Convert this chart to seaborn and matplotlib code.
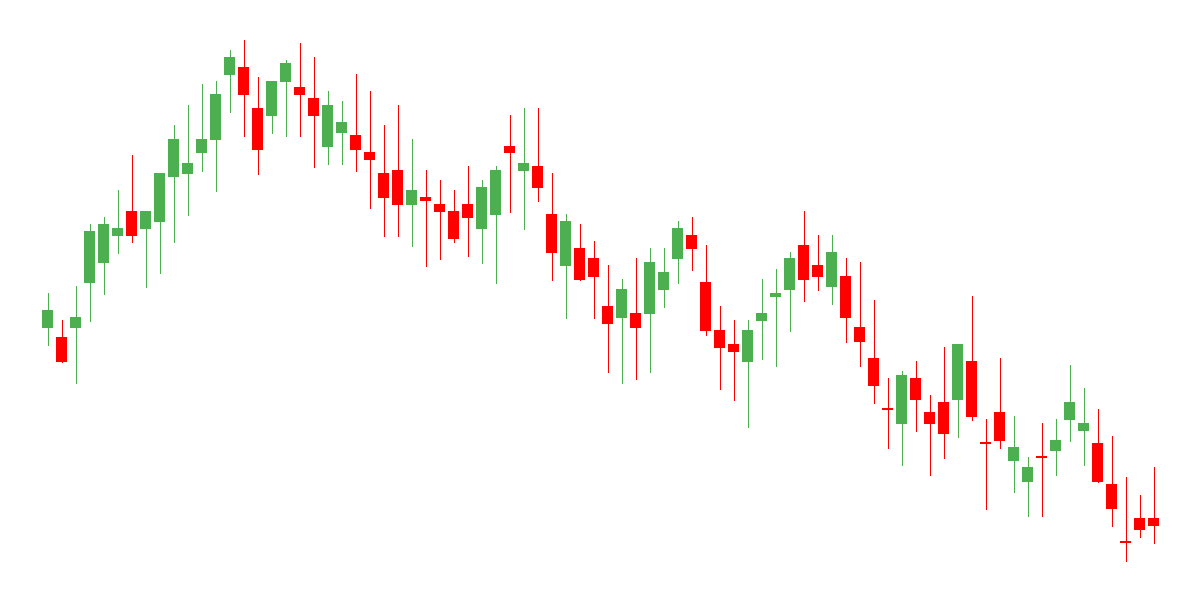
import matplotlib
matplotlib.use("Agg")
import matplotlib.pyplot as plt
import seaborn as sns
import pandas as pd
import numpy as np

# OHLC data
opens = [272.3, 263, 272.3, 317.3, 337.3, 364.3, 389, 371.3, 378.3, 423.3,
         426.3, 447.3, 460.3, 525.3, 533, 492, 484.3, 518.3, 513, 502,
         453.3, 467.3, 465, 448, 427, 430, 395.3, 403, 396, 389,
         396, 371.3, 385.3, 454, 429.3, 434, 386, 334.3, 352, 342,
         294, 282.3, 287, 286.3, 310.3, 341.3, 365, 318, 270, 256,
         238.3, 279.3, 303.3, 310.3, 355, 335, 313.3, 324, 273, 242,
         190.9, 176.3, 222, 188, 198, 200.3, 239, 156.9, 188, 139.3,
         118.3, 142.9, 149.3, 180.3, 169.3, 157, 116, 57.9, 82, 82]
highs = [307, 280, 314, 376, 383, 410, 445, 389, 427, 475,
         495, 516, 519, 550, 560, 523, 519, 540, 557, 543,
         509, 499, 526, 509, 475, 495, 461, 430, 420, 410,
         434, 420, 434, 485, 492, 492, 427, 386, 376, 359,
         335, 321, 342, 352, 352, 379, 383, 355, 294, 280,
         280, 321, 331, 348, 389, 365, 365, 342, 338, 300,
         222, 229, 239, 205, 253, 256, 304, 181, 242, 184,
         143, 177, 181, 235, 212, 191, 164, 123, 105, 133]
lows = [255.3, 238.3, 217.3, 279.3, 306.3, 347.3, 358.3, 313.3, 327.3, 358.3,
        385.3, 429.3, 409.3, 488.3, 464.3, 426.3, 467.3, 464.3, 464.3, 433.3,
        436.3, 436.3, 429.3, 392.3, 364.3, 364.3, 354.3, 334.3, 341.3, 358.3,
        344.3, 337.3, 317.3, 388.3, 371.3, 399.3, 320.3, 282.3, 320.3, 282.3,
        228.3, 217.3, 221.3, 228.3, 293.3, 317.3, 330.3, 265.3, 211.3, 200.3,
        173.3, 241.3, 234.3, 269.3, 299.3, 310.3, 296.3, 258.3, 234.3, 197.3,
        152.3, 135.3, 169.3, 125.3, 142.3, 163.3, 180.3, 91.3, 152.3, 108.3,
        84.3, 84.3, 125.3, 159.3, 135.3, 118.3, 74.3, 39.3, 63.3, 57.3]
closes = [290, 238.3, 283, 369, 376, 372, 364.3, 389, 427, 461,
          437, 461, 506, 543, 505.3, 450.3, 519, 537, 505.3, 484.3,
          495, 478, 450.3, 440.3, 402.3, 395.3, 410, 399.3, 388.3, 361.3,
          382.3, 413, 430, 447.3, 437, 412.3, 347.3, 379, 320.3, 323.3,
          276.3, 311, 272.3, 338, 328, 372, 351.3, 269.3, 252.3, 248.3,
          270, 287, 307, 342, 320.3, 323.3, 348, 282.3, 258.3, 214.3,
          190.5, 225, 200.3, 176.3, 166.3, 256, 183.3, 156.5, 159.3, 153,
          133, 142.5, 160, 198, 177, 118.3, 91.3, 57.5, 70.3, 74.3]

df = pd.DataFrame({"open": opens, "high": highs, "low": lows, "close": closes})
df["idx"] = np.arange(len(df))
df["up"] = df["close"] >= df["open"]

green = "#4caf50"
red = "#ff0000"

sns.set_style("white")
fig = plt.figure(figsize=(12, 6), dpi=100)
ax = fig.add_axes([0, 0, 1, 1])

colors = np.where(df["up"], green, red)

# wicks, 1px
ax.vlines(df["idx"], df["low"], df["high"], colors=colors, linewidth=0.72,
          antialiased=False, zorder=1)

# bodies (doji get a thin line)
bottom = np.minimum(df["open"], df["close"])
height = np.maximum((df["close"] - df["open"]).abs(), 1.2)
ax.bar(df["idx"], height, bottom=bottom, width=0.79, color=colors,
       linewidth=0, zorder=2)

ax.set_xlim(-3.393, 82.32)
ax.set_ylim(0, 600)
ax.axis("off")

fig.savefig("out.png", dpi=100)
